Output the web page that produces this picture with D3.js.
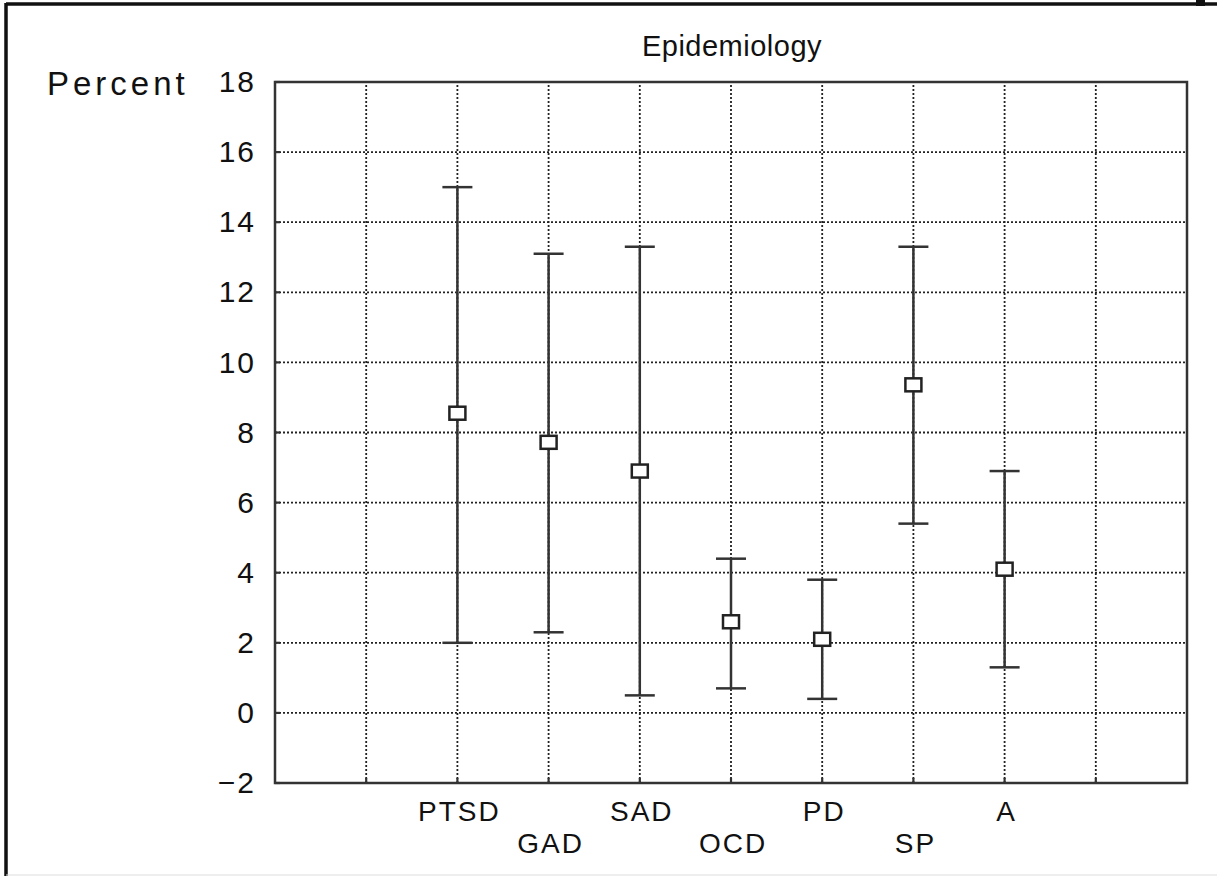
<!DOCTYPE html>
<html>
<head>
<meta charset="utf-8">
<script src="https://cdn.jsdelivr.net/npm/d3@7"></script>
<style>
  body { margin: 0; background: #fff; }
  svg { display: block; font-family: "Liberation Sans", Arial, sans-serif; }
</style>
</head>
<body>
<svg width="1217" height="876"></svg>
<script>
// categories sit on x positions 2..8 of a 0..10 axis
var categories = ['PTSD', 'GAD', 'SAD', 'OCD', 'PD', 'SP', 'A'];
var positions = [2, 3, 4, 5, 6, 7, 8];
var labelRow = [0, 1, 0, 1, 0, 1, 0];
var means = [8.55, 7.72, 6.9, 2.6, 2.1, 9.36, 4.1];
var lows = [2.0, 2.3, 0.5, 0.7, 0.4, 5.4, 1.3];
var highs = [15.0, 13.1, 13.3, 4.4, 3.8, 13.3, 6.9];
var yTicks = [-2, 0, 2, 4, 6, 8, 10, 12, 14, 16, 18];
var xGrid = [1, 2, 3, 4, 5, 6, 7, 8, 9];

var svg = d3.select('svg');

var margin = {left: 275, right: 30, top: 82, bottom: 93};
var width = 1217, height = 876;

var x = d3.scaleLinear().domain([0, 10]).range([margin.left, width - margin.right]);
var y = d3.scaleLinear().domain([-2, 18]).range([height - margin.bottom, margin.top]);

// outer page frame (scan edges)
svg.append('line').attr('x1', 6).attr('x2', 1217).attr('y1', 4).attr('y2', 4)
  .attr('stroke', '#111').attr('stroke-width', 3.5);
svg.append('line').attr('x1', 6).attr('x2', 6).attr('y1', 3).attr('y2', 876)
  .attr('stroke', '#111').attr('stroke-width', 3.5);
svg.append('rect').attr('x', 1196).attr('y', 0).attr('width', 9).attr('height', 6).attr('fill', '#111');
svg.append('line').attr('x1', 6).attr('x2', 1217).attr('y1', 875).attr('y2', 875)
  .attr('stroke', '#ddd').attr('stroke-width', 1);

// grid
var grid = svg.append('g').attr('stroke', '#222').attr('stroke-width', 1.8)
  .attr('stroke-dasharray', '2,2');
grid.selectAll('line.h')
  .data(yTicks.filter(function(d) { return d > -2 && d < 18; }))
  .enter().append('line')
  .attr('x1', x(0)).attr('x2', x(10))
  .attr('y1', function(d) { return y(d); })
  .attr('y2', function(d) { return y(d); });
grid.selectAll('line.v')
  .data(xGrid)
  .enter().append('line')
  .attr('y1', y(-2)).attr('y2', y(18))
  .attr('x1', function(d) { return x(d); })
  .attr('x2', function(d) { return x(d); });

// frame of plot
svg.append('rect')
  .attr('x', x(0)).attr('y', y(18))
  .attr('width', x(10) - x(0)).attr('height', y(-2) - y(18))
  .attr('fill', 'none').attr('stroke', '#333').attr('stroke-width', 2.5);

// y axis labels
var yAxis = d3.axisLeft(y).tickValues(yTicks).tickSize(0).tickPadding(19)
  .tickFormat(function(d) { return d < 0 ? '\u2212' + Math.abs(d) : d; });
var ya = svg.append('g').attr('transform', 'translate(' + x(0) + ',0)').call(yAxis);
ya.select('.domain').remove();
ya.selectAll('text').attr('font-size', 30).attr('letter-spacing', 2).attr('fill', '#111')
  .attr('font-family', '"Liberation Sans", Arial, sans-serif');

// small ticks on frame
svg.append('g').selectAll('line')
  .data(xGrid).enter().append('line')
  .attr('x1', function(d) { return x(d); }).attr('x2', function(d) { return x(d); })
  .attr('y1', y(-2)).attr('y2', y(-2) - 5)
  .attr('stroke', '#333').attr('stroke-width', 2.2);
svg.append('g').selectAll('line')
  .data(yTicks).enter().append('line')
  .attr('x1', x(0)).attr('x2', x(0) + 5)
  .attr('y1', function(d) { return y(d); }).attr('y2', function(d) { return y(d); })
  .attr('stroke', '#333').attr('stroke-width', 2.2);

// category labels, staggered in two rows
svg.append('g').selectAll('text')
  .data(categories).enter().append('text')
  .attr('x', function(d, i) { return x(positions[i]) + 2; })
  .attr('y', function(d, i) { return labelRow[i] ? 853 : 821; })
  .attr('text-anchor', 'middle')
  .attr('font-size', 28)
  .attr('letter-spacing', 2)
  .attr('fill', '#111')
  .text(function(d) { return d; });

// error bars
var bars = svg.append('g').attr('stroke', '#333').attr('stroke-width', 2.5);
positions.forEach(function(p, i) {
  var cx = x(p);
  bars.append('line').attr('x1', cx).attr('x2', cx)
    .attr('y1', y(lows[i])).attr('y2', y(highs[i]));
  bars.append('line').attr('x1', cx - 15).attr('x2', cx + 15)
    .attr('y1', y(highs[i])).attr('y2', y(highs[i]));
  bars.append('line').attr('x1', cx - 15).attr('x2', cx + 15)
    .attr('y1', y(lows[i])).attr('y2', y(lows[i]));
});

// mean markers
svg.append('g').selectAll('rect')
  .data(means).enter().append('rect')
  .attr('x', function(d, i) { return x(positions[i]) - 8; })
  .attr('y', function(d) { return y(d) - 6.5; })
  .attr('width', 16).attr('height', 13)
  .attr('fill', '#fff').attr('stroke', '#222').attr('stroke-width', 2.5);

// titles
svg.append('text').attr('x', (x(0) + x(10)) / 2 + 1).attr('y', 56)
  .attr('text-anchor', 'middle').attr('font-size', 29).attr('letter-spacing', 0.5)
  .attr('fill', '#111')
  .text('Epidemiology');
svg.append('text').attr('x', 47).attr('y', 95)
  .attr('font-size', 33).attr('letter-spacing', 4).attr('fill', '#111')
  .text('Percent');
</script>
</body>
</html>
